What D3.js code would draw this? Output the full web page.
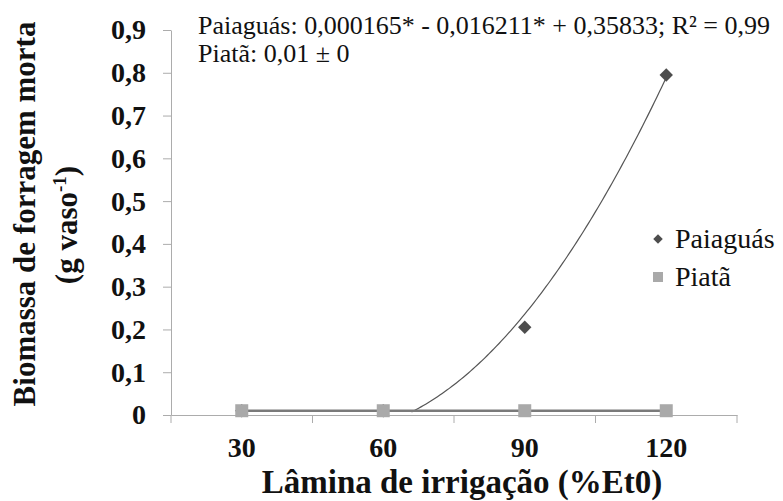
<!DOCTYPE html>
<html>
<head>
<meta charset="utf-8">
<script src="https://cdn.jsdelivr.net/npm/d3@7"></script>
<style>
  html, body { margin: 0; padding: 0; background: #fff; }
  svg { display: block; }
  text { font-family: "Liberation Serif", "Times New Roman", serif; fill: #111; }
</style>
</head>
<body>
<svg id="chart" width="783" height="501"></svg>
<script>
// ---- data ----
const categories = [30, 60, 90, 120];
const paiaguas = [0.01, 0.01, 0.205, 0.795];
const piata = [0.01, 0.01, 0.01, 0.01];
const yTicks = [0, 0.1, 0.2, 0.3, 0.4, 0.5, 0.6, 0.7, 0.8, 0.9];
const paiaguasCoef = [0.000165, -0.016211, 0.35833]; // a x^2 + b x + c (trend line printed on chart)
const eqLines = ["Paiaguás: 0,000165* - 0,016211* + 0,35833; R² = 0,99", "Piatã: 0,01 ± 0"];
const seriesNames = ["Paiaguás", "Piatã"];

// ---- layout ----
const svg = d3.select("#chart");
svg.append("rect").attr("width", 783).attr("height", 501).attr("fill", "#fff");

const x0 = 171, x1 = 737, yTop = 30, yBot = 415;
const xBand = d3.scaleBand().domain(categories).range([x0, x1]).padding(0);
const xPos = d => xBand(d) + xBand.bandwidth() / 2;
const xLin = d3.scaleLinear().domain([categories[0], categories[categories.length - 1]])
  .range([xPos(categories[0]), xPos(categories[categories.length - 1])]);
const y = d3.scaleLinear().domain([0, 0.9]).range([yBot, yTop]);
const fmt = v => (v === 0 ? "0" : d3.format(".1f")(v).replace(".", ","));

const axisColor = "#acacac";

// y axis
const yAxis = svg.append("g").attr("transform", `translate(${x0},0)`)
  .call(d3.axisLeft(y).tickValues(yTicks).tickFormat(fmt).tickSize(8).tickSizeOuter(0).tickPadding(17));
yAxis.select(".domain").attr("stroke", axisColor);
yAxis.selectAll(".tick line").attr("stroke", axisColor);
yAxis.selectAll(".tick text").attr("font-family", "Liberation Serif, serif")
  .attr("font-size", 28).attr("font-weight", "bold").attr("fill", "#111");

// x axis
const xAxis = svg.append("g").attr("transform", `translate(0,${yBot})`)
  .call(d3.axisBottom(xBand).tickSize(0).tickPadding(22).tickSizeOuter(0));
xAxis.select(".domain").attr("stroke", axisColor);
xAxis.selectAll(".tick text").attr("font-family", "Liberation Serif, serif")
  .attr("font-size", 28).attr("font-weight", "bold").attr("fill", "#111");
// tick marks between categories
const boundaries = categories.map(c => xBand(c)).concat([xBand(categories[categories.length - 1]) + xBand.bandwidth()]);
svg.append("g").selectAll("line").data(boundaries).join("line")
  .attr("x1", d => d).attr("x2", d => d).attr("y1", yBot).attr("y2", yBot + 8)
  .attr("stroke", axisColor);

// axis titles
svg.append("text").attr("x", 462).attr("y", 493).attr("text-anchor", "middle")
  .attr("font-size", 33).attr("font-weight", "bold").text("Lâmina de irrigação (%Et0)");

const yt = svg.append("g").attr("transform", "rotate(-90)");
yt.append("text").attr("x", -214).attr("y", 35).attr("text-anchor", "middle")
  .attr("font-size", 31).attr("font-weight", "bold").text("Biomassa de forragem morta");
const yt2 = yt.append("text").attr("x", -225).attr("y", 77).attr("text-anchor", "middle")
  .attr("font-size", 31).attr("font-weight", "bold");
yt2.append("tspan").text("(g vaso");
yt2.append("tspan").attr("font-size", 19).attr("dy", -11).text("-1");
yt2.append("tspan").attr("dy", 11).text(")");

// trend line Paiaguás (from the equation printed on the chart)
const xs = d3.range(60, 120.01, 0.5);
const curvePts = xs.map(v => [v, paiaguasCoef[0] * v * v + paiaguasCoef[1] * v + paiaguasCoef[2]])
  .filter(p => p[1] >= 0.005);
svg.append("path").datum(curvePts)
  .attr("d", d3.line().x(d => xLin(d[0])).y(d => y(d[1])))
  .attr("fill", "none").attr("stroke", "#555").attr("stroke-width", 1.2);

// Paiaguás points (diamonds)
const diamond = d3.symbol().type(d3.symbolSquare).size(90);
svg.append("g").selectAll("path").data(categories.map((c, i) => [c, paiaguas[i]])).join("path")
  .attr("d", diamond)
  .attr("transform", d => `translate(${xPos(d[0])},${y(d[1])}) rotate(45)`)
  .attr("fill", "#4d4d4d");

// Piatã mean line
svg.append("path").datum(categories.map((c, i) => [c, piata[i]]))
  .attr("d", d3.line().x(d => xPos(d[0])).y(d => y(d[1])))
  .attr("fill", "none").attr("stroke", "#7a7a7a").attr("stroke-width", 2.5);

// Piatã points (squares)
const square = d3.symbol().type(d3.symbolSquare).size(169);
svg.append("g").selectAll("path").data(categories.map((c, i) => [c, piata[i]])).join("path")
  .attr("d", square)
  .attr("transform", d => `translate(${xPos(d[0])},${y(d[1])})`)
  .attr("fill", "#a9a9a9");

// equation text
svg.append("g").selectAll("text").data(eqLines).join("text")
  .attr("x", 198).attr("y", (d, i) => 34 + i * 28)
  .attr("font-size", 26).text(d => d);

// legend
const leg = svg.append("g");
const legY = [239, 277];
leg.append("path").attr("d", d3.symbol().type(d3.symbolSquare).size(45))
  .attr("transform", `translate(658,${legY[0]}) rotate(45)`).attr("fill", "#4d4d4d");
leg.append("path").attr("d", d3.symbol().type(d3.symbolSquare).size(100))
  .attr("transform", `translate(658,${legY[1]})`).attr("fill", "#a9a9a9");
leg.selectAll("text").data(seriesNames).join("text")
  .attr("x", 675).attr("y", (d, i) => legY[i] + 9)
  .attr("font-size", 28).text(d => d);
</script>
</body>
</html>
